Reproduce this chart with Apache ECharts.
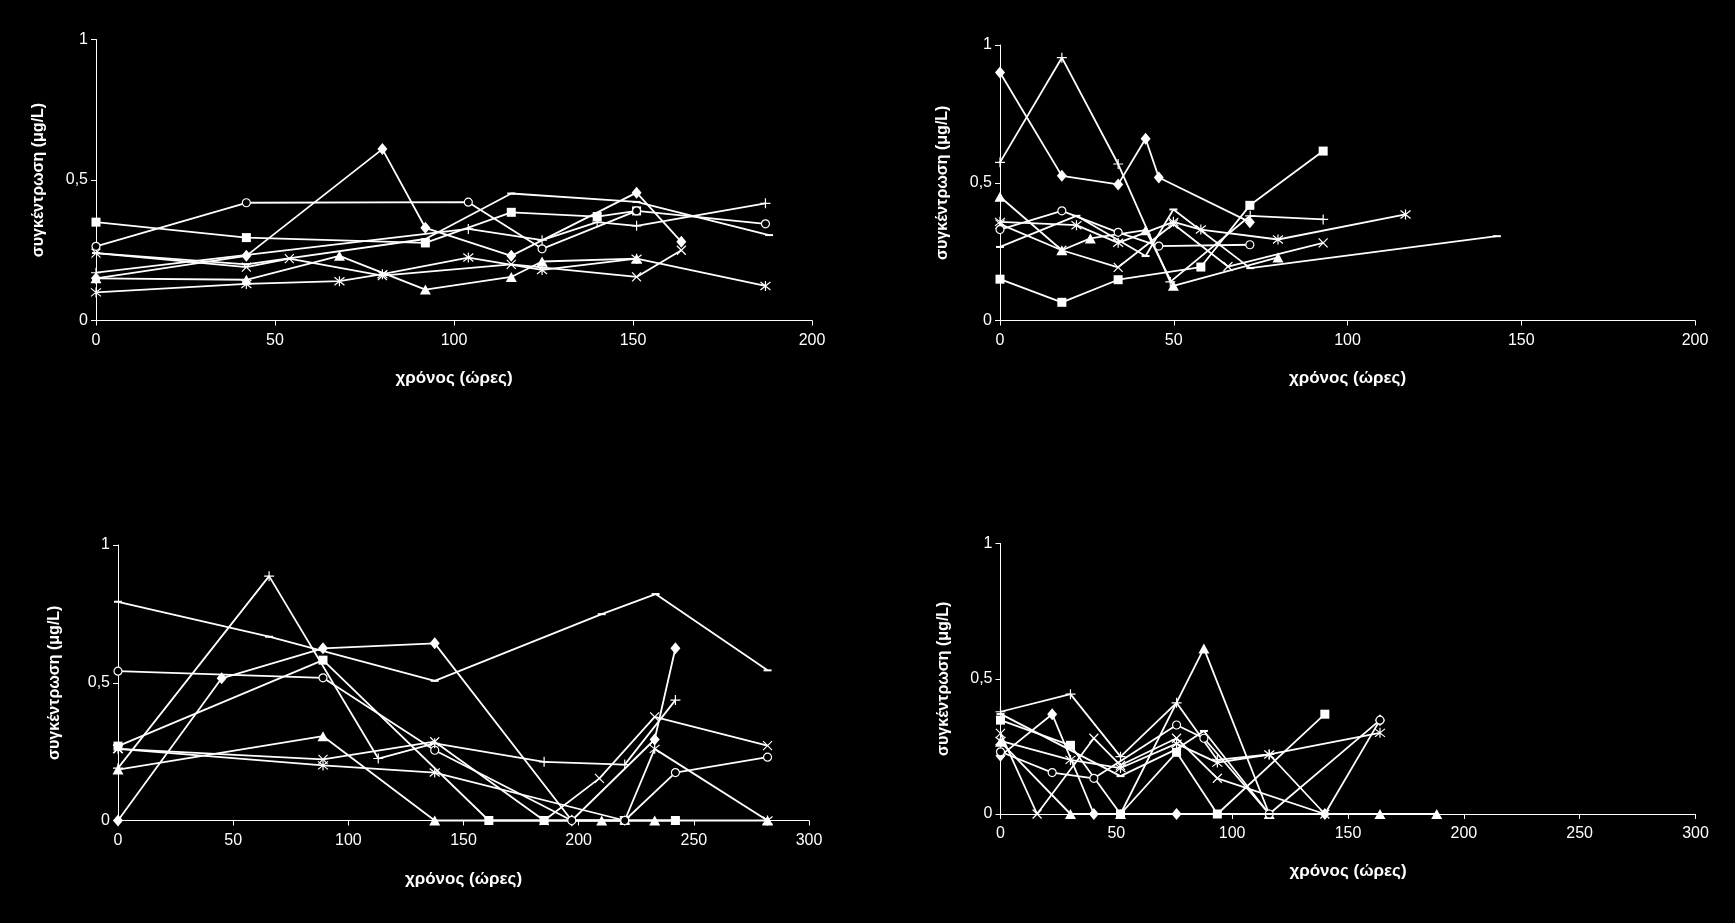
<!DOCTYPE html>
<html>
<head>
<meta charset="utf-8">
<script src="https://cdn.jsdelivr.net/npm/echarts@6/dist/echarts.min.js"></script>
<style>
html,body{margin:0;padding:0;background:#000;}
#c{width:1735px;height:923px;}
</style>
</head>
<body>
<div id="c"></div>
<script>
// ---- axis labels ----
const xTitle = 'χρόνος (ώρες)';
const yTitle = 'συγκέντρωση (μg/L)';
const xMaxTop = 200;
const xMaxBottom = 300;

// ---- Panel 1 (top-left) ----
const p1_diamond = [[0,0.15],[42,0.23],[80,0.61],[92,0.33],[116,0.23],[151,0.455],[163.5,0.28]];
const p1_square  = [[0,0.35],[42,0.295],[92,0.276],[116,0.385],[140,0.37],[151,0.39]];
const p1_triangle= [[0,0.15],[42,0.145],[68,0.23],[92,0.11],[116,0.155],[124.6,0.21],[151,0.22]];
const p1_x       = [[0,0.24],[42,0.19],[54,0.22],[80,0.16],[116,0.20],[151,0.155],[163.5,0.25]];
const p1_star    = [[0,0.10],[42,0.13],[68,0.14],[80,0.165],[104,0.224],[124.6,0.18],[151,0.22],[187,0.123]];
const p1_circle  = [[0,0.264],[42,0.419],[104,0.421],[124.6,0.255],[151,0.39],[187,0.344]];
const p1_plus    = [[0,0.17],[104,0.326],[124.6,0.286],[140,0.35],[151,0.337],[187,0.417]];
const p1_dash    = [[0,0.24],[42,0.20],[92,0.29],[116,0.452],[151,0.422],[188,0.304]];

// ---- Panel 2 (top-right) ----
const p2_diamond = [[0,0.90],[17.8,0.525],[34,0.494],[41.9,0.66],[45.7,0.519],[71.9,0.357]];
const p2_square  = [[0,0.15],[17.8,0.066],[34,0.148],[57.8,0.194],[71.9,0.418],[93,0.615]];
const p2_triangle= [[0,0.449],[17.8,0.255],[26,0.298],[41.9,0.328],[49.9,0.126],[80,0.229]];
const p2_x       = [[0,0.35],[17.8,0.255],[34,0.193],[49.9,0.35],[65.6,0.196],[93,0.282]];
const p2_star    = [[0,0.358],[22,0.346],[34,0.282],[49.9,0.358],[57.8,0.33],[80,0.294],[116.7,0.385]];
const p2_circle  = [[0,0.33],[17.8,0.398],[34,0.32],[45.7,0.27],[71.9,0.275]];
const p2_plus    = [[0,0.574],[17.8,0.954],[34,0.568],[49,0.14],[72,0.38],[93,0.367]];
const p2_dash    = [[0,0.267],[22,0.38],[41.9,0.234],[49.9,0.403],[72,0.19],[143,0.306]];

// ---- Panel 3 (bottom-left) ----
const p3_diamond = [[0,0],[45,0.516],[89,0.625],[137.5,0.643],[197,0],[233,0.294],[242,0.625]];
const p3_square  = [[0,0.27],[89,0.582],[161,0],[185,0],[220,0],[242,0]];
const p3_triangle= [[0,0.185],[89,0.306],[137.5,0],[210,0],[233,0],[282,0]];
const p3_x       = [[0,0.26],[89,0.222],[137.5,0.286],[185,0],[209,0.153],[233,0.376],[282,0.272]];
const p3_star    = [[0,0.26],[89,0.20],[137.5,0.174],[220,0],[233,0.26],[282,0]];
const p3_circle  = [[0,0.542],[89,0.518],[137.5,0.255],[197,0],[220,0],[242,0.174],[282,0.23]];
const p3_plus    = [[0,0.19],[65.6,0.887],[113,0.225],[137.5,0.28],[185,0.213],[220,0.203],[242,0.437]];
const p3_dash    = [[0,0.794],[65.6,0.667],[137.5,0.507],[210,0.749],[233.4,0.822],[282,0.545]];

// ---- Panel 4 (bottom-right) ----
const p4_diamond = [[0,0.215],[22.3,0.369],[40.3,0],[76,0],[140,0],[163.8,0.347]];
const p4_square  = [[0,0.347],[30.2,0.254],[51.8,0],[76,0.228],[93.6,0],[140,0.369]];
const p4_triangle= [[0,0.267],[30.2,0],[51.8,0],[87.8,0.612],[116,0],[163.8,0],[188.3,0]];
const p4_x       = [[0,0.298],[15.8,0],[40.3,0.28],[51.8,0.18],[76,0.28],[93.6,0.132],[140,0]];
const p4_star    = [[0,0.27],[30.2,0.2],[51.8,0.17],[76,0.26],[93.6,0.19],[116,0.22],[163.8,0.30]];
const p4_circle  = [[0,0.23],[22.3,0.153],[40.3,0.132],[76,0.329],[87.8,0.28],[116,0],[163.8,0.347]];
const p4_plus    = [[0,0.378],[30.2,0.443],[51.8,0.212],[76,0.411],[93.6,0.2],[116,0.22],[140,0]];
const p4_dash    = [[0,0.37],[51.8,0.14],[76,0.24],[87.8,0.307],[116,0],[140,0]];

const panels = [
  {diamond:p1_diamond,square:p1_square,triangle:p1_triangle,x:p1_x,star:p1_star,circle:p1_circle,plus:p1_plus,dash:p1_dash},
  {diamond:p2_diamond,square:p2_square,triangle:p2_triangle,x:p2_x,star:p2_star,circle:p2_circle,plus:p2_plus,dash:p2_dash},
  {diamond:p3_diamond,square:p3_square,triangle:p3_triangle,x:p3_x,star:p3_star,circle:p3_circle,plus:p3_plus,dash:p3_dash},
  {diamond:p4_diamond,square:p4_square,triangle:p4_triangle,x:p4_x,star:p4_star,circle:p4_circle,plus:p4_plus,dash:p4_dash}
];

const FONT = "'Liberation Sans', Arial, sans-serif";
const WHITE = '#ffffff';

const markerDefs = {
  diamond: {symbol:'diamond', size:[10,12]},
  square:  {symbol:'rect', size:9},
  triangle:{symbol:'triangle', size:[11,10]},
  x:       {symbol:'path://M0,0L10,10M10,0L0,10', size:9, stroke:true},
  star:    {symbol:'path://M0,1L10,9M10,1L0,9M5,0L5,10', size:10, stroke:true},
  circle:  {symbol:'circle', size:8, hollow:true},
  plus:    {symbol:'path://M5,0L5,10M0,5L10,5', size:10, stroke:true},
  dash:    {symbol:'rect', size:[8,2]}
};
const order = ['diamond','square','triangle','x','star','circle','plus','dash'];

// grid geometry (pixels)
const grids = [
  {left:96,   top:39.5, width:716, height:281},
  {left:1000, top:45,   width:695, height:275.5},
  {left:118,  top:545,  width:691, height:275.5},
  {left:1000.5, top:543.5, width:695, height:270.5}
];
const xMaxes = [xMaxTop, xMaxTop, xMaxBottom, xMaxBottom];
const yGaps = [49, 49, 55, 49];
const xGaps = [49, 49, 50, 49];

const axisLine = {show:true, lineStyle:{color:WHITE, width:1}};
const axisTick = {show:true, inside:false, length:5, lineStyle:{color:WHITE, width:1}};

const option = {
  backgroundColor:'#000',
  animation:false,
  grid: grids.map(g => Object.assign({containLabel:false}, g)),
  xAxis: grids.map((g,i) => ({
    type:'value', gridIndex:i, min:0, max:xMaxes[i], interval:50,
    axisLine, axisTick,
    splitLine:{show:false},
    axisLabel:{color:WHITE, fontFamily:FONT, fontSize:16, margin:12},
    name:xTitle, nameLocation:'middle', nameGap:xGaps[i],
    nameTextStyle:{color:WHITE, fontFamily:FONT, fontSize:17, fontWeight:'bold'}
  })),
  yAxis: grids.map((g,i) => ({
    type:'value', gridIndex:i, min:0, max:1, interval:0.5,
    axisLine, axisTick,
    splitLine:{show:false},
    axisLabel:{color:WHITE, fontFamily:FONT, fontSize:16, margin:8,
      formatter: v => String(v).replace('.', ',')},
    name:yTitle, nameLocation:'middle', nameGap:yGaps[i],
    nameTextStyle:{color:WHITE, fontFamily:FONT, fontSize:16, fontWeight:'bold'}
  })),
  series: []
};

panels.forEach((p, i) => {
  order.forEach(key => {
    const m = markerDefs[key];
    const itemStyle = m.stroke ? {color:WHITE, borderColor:WHITE, borderWidth:1.2}
                    : m.hollow ? {color:'#000', borderColor:WHITE, borderWidth:1.2}
                    : {color:WHITE, borderWidth:0};
    option.series.push({
      type:'line', name:key + (i+1), xAxisIndex:i, yAxisIndex:i,
      data:p[key], symbol:m.symbol, symbolSize:m.size, showSymbol:true,
      lineStyle:{color:WHITE, width:1.8},
      itemStyle, emphasis:{disabled:true}, clip:false
    });
  });
});

const chart = echarts.init(document.getElementById('c'));
chart.setOption(option);
</script>
</body>
</html>
